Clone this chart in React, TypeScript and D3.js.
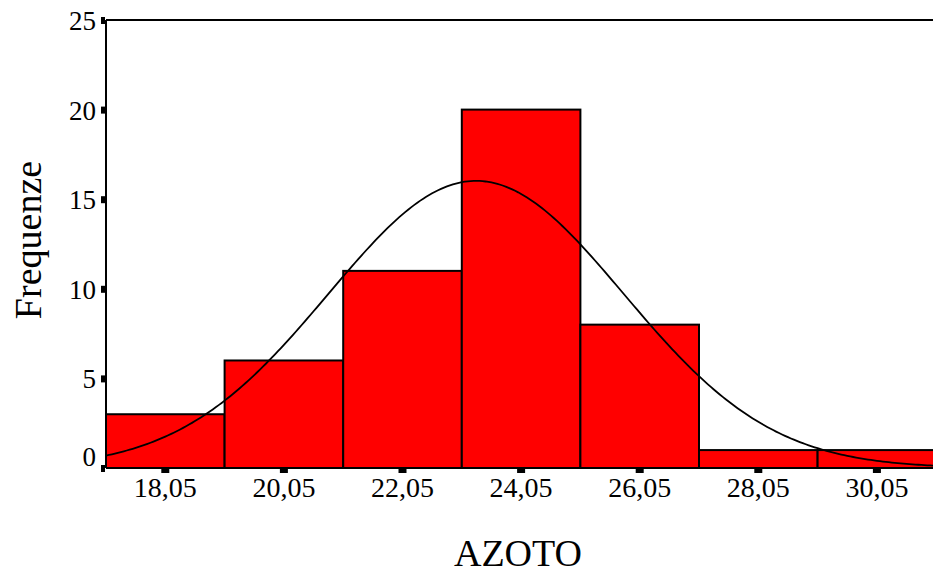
import React from "react";
import * as d3 from "d3";

const binCenters = [18.05, 20.05, 22.05, 24.05, 26.05, 28.05, 30.05];
const binCounts = [3, 6, 11, 20, 8, 1, 1];
const binWidth = 2;
const yTicks = [0, 5, 10, 15, 20, 25];
const xTicks = [18.05, 20.05, 22.05, 24.05, 26.05, 28.05, 30.05];
const curveMean = 23.29;
const curveSd = 2.49;

const W = 933;
const H = 577;
const left = 106;
const right = 933;
const top = 20;
const bottom = 468;

export default function App() {
  const x = d3.scaleLinear().domain([17.05, 31.0]).range([left, left + (31.0 - 17.05) * (118.6 / 2)]);
  const y = d3.scaleLinear().domain([0, 25]).range([bottom, top]);
  const n = d3.sum(binCounts);
  const pts: [number, number][] = [];
  const xs = d3.range(17.05, 31.2, 0.05);
  for (const v of xs) {
    const d = (n * binWidth) / (curveSd * Math.sqrt(2 * Math.PI)) * Math.exp(-0.5 * ((v - curveMean) / curveSd) ** 2);
    pts.push([x(v), y(d)]);
  }
  const line = d3.line();
  const fmt = (v: number) => v.toFixed(2).replace(".", ",");
  const font = "Liberation Serif, Times New Roman, serif";
  return (
    <svg width={W} height={H} style={{ position: "absolute", left: 0, top: 0, background: "#fff" }}>
      <defs>
        <clipPath id="plot">
          <rect x={left} y={top - 2} width={right - left} height={bottom - top + 4} />
        </clipPath>
      </defs>
      <g clipPath="url(#plot)">
        {binCenters.map((c, i) => (
          <rect
            key={i}
            x={x(c - binWidth / 2)}
            y={y(binCounts[i])}
            width={x(c + binWidth / 2) - x(c - binWidth / 2)}
            height={y(0) - y(binCounts[i])}
            fill="#ff0000"
            stroke="#000"
            strokeWidth={2}
          />
        ))}
        <path d={line(pts) || ""} fill="none" stroke="#000" strokeWidth={1.8} />
      </g>
      <line x1={left} x2={right} y1={top} y2={top} stroke="#000" strokeWidth={2} />
      <line x1={left} x2={left} y1={top} y2={bottom} stroke="#000" strokeWidth={2} />
      <line x1={left} x2={right} y1={bottom} y2={bottom} stroke="#000" strokeWidth={2} />
      {yTicks.map((t) => (
        <g key={t}>
          <rect x={left - 5} y={y(t) - 3} width={4} height={7} fill="#000" />
          <text x={96} y={t === 0 ? bottom - 2 : y(t) + 10} textAnchor="end" fontFamily={font} fontSize={27} fill="#000">
            {t}
          </text>
        </g>
      ))}
      {xTicks.map((t) => (
        <g key={t}>
          <rect x={x(t) - 4} y={bottom} width={8} height={5} fill="#000" />
          <text x={x(t)} y={bottom + 29} textAnchor="middle" fontFamily={font} fontSize={28} fill="#000">
            {fmt(t)}
          </text>
        </g>
      ))}
      <text x={518} y={566} textAnchor="middle" fontFamily={font} fontSize={38} fill="#000">
        AZOTO
      </text>
      <text
        transform={`translate(41, 240) rotate(-90)`}
        textAnchor="middle"
        fontFamily={font}
        fontSize={38}
        fill="#000"
      >
        Frequenze
      </text>
    </svg>
  );
}
